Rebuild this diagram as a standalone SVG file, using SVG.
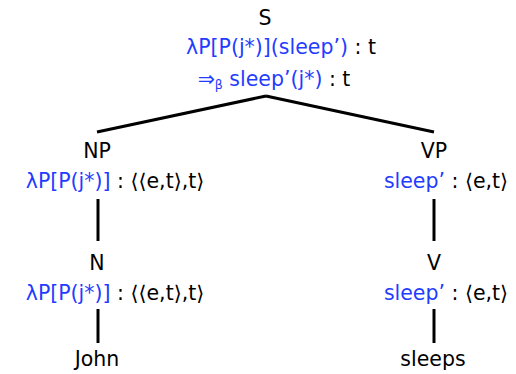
<svg xmlns="http://www.w3.org/2000/svg" width="516" height="374" viewBox="0 0 516 374">
  <style>
    text { font-family: "DejaVu Sans", sans-serif; font-size: 20.5px; fill: #000; text-anchor: middle; }
    .sem { fill: #1f3cff; }
    .sub { font-size: 12.5px; }
    .edge { stroke: #000; stroke-width: 3; fill: none; }
  </style>
  <rect width="516" height="374" fill="#fff"/>
  <g id="connectors">
    <line class="edge" x1="266" y1="96" x2="97" y2="132"/>
    <line class="edge" x1="266" y1="96" x2="434" y2="132"/>
    <line class="edge" x1="98" y1="199" x2="98" y2="241"/>
    <line class="edge" x1="434" y1="199" x2="434" y2="241"/>
    <line class="edge" x1="98" y1="309" x2="98" y2="343"/>
    <line class="edge" x1="434" y1="309" x2="434" y2="343"/>
  </g>
  <g id="S">
    <text x="265" y="25">S</text>
    <text x="281" y="54"><tspan class="sem">λP[P(j*)](sleep’)</tspan> : t</text>
    <text x="274" y="86"><tspan class="sem">⇒</tspan><tspan class="sem sub" dy="3">β</tspan><tspan class="sem" dy="-3"> sleep’(j*)</tspan> : t</text>
  </g>
  <g id="NP">
    <text x="97" y="158">NP</text>
    <text x="115" y="188"><tspan class="sem">λP[P(j*)]</tspan> : ⟨⟨e,t⟩,t⟩</text>
  </g>
  <g id="VP">
    <text x="434" y="158">VP</text>
    <text x="446" y="188"><tspan class="sem">sleep’</tspan> : ⟨e,t⟩</text>
  </g>
  <g id="N">
    <text x="97" y="270">N</text>
    <text x="115" y="300"><tspan class="sem">λP[P(j*)]</tspan> : ⟨⟨e,t⟩,t⟩</text>
  </g>
  <g id="V">
    <text x="434" y="270">V</text>
    <text x="446" y="300"><tspan class="sem">sleep’</tspan> : ⟨e,t⟩</text>
  </g>
  <g id="John">
    <text x="97" y="366">John</text>
  </g>
  <g id="sleeps">
    <text x="433" y="366">sleeps</text>
  </g>
</svg>
